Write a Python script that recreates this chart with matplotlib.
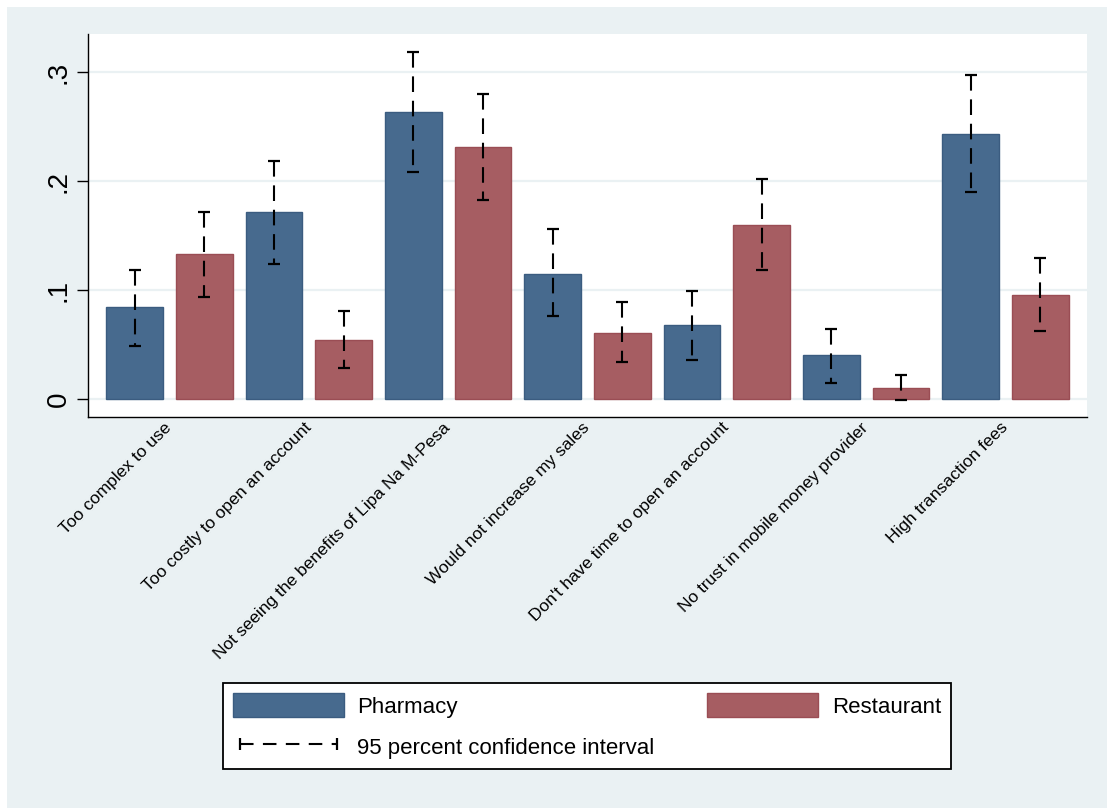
import matplotlib
matplotlib.use("Agg")
import matplotlib.pyplot as plt
import numpy as np
from matplotlib.patches import Patch, Rectangle
from matplotlib.lines import Line2D

plt.rcParams['font.family'] = ['Liberation Sans', 'DejaVu Sans']

# Reasons for not adopting Lipa Na M-Pesa, share of respondents by business type
reasons = [
    "Too complex to use",
    "Too costly to open an account",
    "Not seeing the benefits of Lipa Na M-Pesa",
    "Would not increase my sales",
    "Don't have time to open an account",
    "No trust in mobile money provider",
    "High transaction fees",
]
pharmacy = [0.084, 0.172, 0.263, 0.115, 0.068, 0.040, 0.243]
pharmacy_lo = [0.049, 0.124, 0.208, 0.076, 0.036, 0.015, 0.190]
pharmacy_hi = [0.118, 0.218, 0.318, 0.156, 0.099, 0.064, 0.297]
restaurant = [0.133, 0.054, 0.231, 0.061, 0.160, 0.010, 0.095]
restaurant_lo = [0.094, 0.028, 0.183, 0.034, 0.118, -0.001, 0.062]
restaurant_hi = [0.172, 0.081, 0.280, 0.089, 0.202, 0.022, 0.129]

yticks = [0, 0.1, 0.2, 0.3]
ytick_labels = ["0", ".1", ".2", ".3"]

C_PH = "#476A8E"
C_PH_EDGE = "#3B5C80"
C_RE = "#A65D62"
C_RE_EDGE = "#9A4D54"
BG = "#EAF1F3"
CI_DASH = (0, (7.5, 4.2))

W, H = 1107, 808
fig = plt.figure(figsize=(W / 100, H / 100), dpi=100, facecolor="white")
# graph region background
fig.patches.append(Rectangle((7 / W, 0), 1 - 7 / W, 1 - 7 / H,
                             transform=fig.transFigure, facecolor=BG,
                             edgecolor="none", zorder=-10))

ax = fig.add_axes([88 / W, 1 - 417 / H, (1087 - 88) / W, (417 - 34) / H])
ax.set_facecolor("white")

n = len(reasons)
x_ph = np.arange(n) * 2.0
x_re = x_ph + 1.0
bw = 0.81

ax.bar(x_ph, pharmacy, width=bw, color=C_PH, edgecolor=C_PH_EDGE, linewidth=1.0, zorder=2)
ax.bar(x_re, restaurant, width=bw, color=C_RE, edgecolor=C_RE_EDGE, linewidth=1.0, zorder=2)

for xs, lo, hi in ((x_ph, pharmacy_lo, pharmacy_hi), (x_re, restaurant_lo, restaurant_hi)):
    lo = np.asarray(lo)
    hi = np.asarray(hi)
    for xi, l, h in zip(xs, lo, hi):
        ax.plot([xi, xi], [h, l], color="black", lw=1.5, linestyle=CI_DASH,
                solid_capstyle="butt", dash_capstyle="butt", zorder=3)
    ax.plot(xs, hi, linestyle="none", marker="_", markersize=9, markeredgewidth=1.6,
            color="black", zorder=3)
    ax.plot(xs, lo, linestyle="none", marker="_", markersize=9, markeredgewidth=1.6,
            color="black", zorder=3)

ax.set_xlim(-0.669, 2 * n - 1 + 0.669)
ax.set_ylim(-0.0165, 0.3349)

ax.set_yticks(yticks)
ax.set_yticklabels(ytick_labels, rotation=90, va="center", fontsize=20)
ax.tick_params(axis="y", length=7.8, width=1.0, color="black", pad=4)
ax.yaxis.grid(True, color=BG, linewidth=1.6, zorder=0)
ax.set_axisbelow(True)

ax.set_xticks(x_ph + 0.5)
ax.set_xticklabels(reasons, rotation=45, ha="right", va="center",
                   rotation_mode="anchor", fontsize=12.5)
ax.tick_params(axis="x", length=0, pad=6)

for s in ("top", "right"):
    ax.spines[s].set_visible(False)
for s in ("left", "bottom"):
    ax.spines[s].set_linewidth(1.0)
    ax.spines[s].set_color("black")

handles = [
    Patch(facecolor=C_PH, edgecolor=C_PH_EDGE, linewidth=1.0),
    Line2D([0, 1], [0, 0], color="black", lw=1.5, linestyle=(0, (6.5, 4.5)),
           marker="|", markersize=9, markeredgewidth=1.6),
    Patch(facecolor=C_RE, edgecolor=C_RE_EDGE, linewidth=1.0),
]
labels = ["Pharmacy", "95 percent confidence interval", "Restaurant"]
leg = fig.legend(handles, labels, ncol=2, loc="upper left",
                 bbox_to_anchor=(223 / W, 1 - 683 / H, (951 - 223) / W, 0),
                 mode="expand", borderaxespad=0, fontsize=16, frameon=True,
                 fancybox=False, edgecolor="black", facecolor="white", framealpha=1,
                 handlelength=5.0, handleheight=1.3, handletextpad=0.6,
                 labelspacing=0.75, borderpad=0.45, numpoints=2)
leg.get_frame().set_linewidth(1.3)

fig.savefig("out.png", dpi=100, facecolor=fig.get_facecolor())
